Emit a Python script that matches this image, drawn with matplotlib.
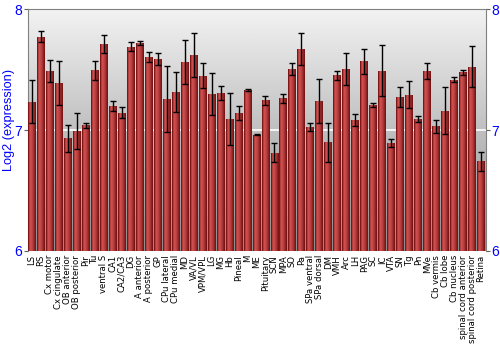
import numpy as np
import matplotlib
matplotlib.use('Agg')
import matplotlib.pyplot as plt
from matplotlib.colors import LinearSegmentedColormap

plt.rcParams['font.family'] = ['Liberation Sans', 'DejaVu Sans']

# 脑区名称
labels = ['LS', 'RS', 'Cx motor', 'Cx cingulate', 'OB anterior', 'OB posterior', 'Pir', 'Tu',
          'ventral S', 'CA1', 'CA2/CA3', 'DG', 'A anterior', 'A posterior', 'GP', 'CPu lateral',
          'CPu medial', 'MD', 'VA/VL', 'VPM/VPL', 'LG', 'MG', 'Hb', 'Pineal', 'M', 'ME',
          'Pituitary', 'SCN', 'MPA', 'SO', 'Pa', 'SPa ventral', 'SPa dorsal', 'DM', 'VMH', 'Arc',
          'LH', 'PAG', 'SC', 'IC', 'VTA', 'SN', 'Tg', 'Pn', 'MVe', 'Cb vermis', 'Cb lobe',
          'Cb nucleus', 'spinal cord anterior', 'spinal cord posterior', 'Retina']
# 均值
means = [7.235, 7.77, 7.485, 7.388, 6.93, 6.99, 7.04, 7.493, 7.712, 7.2, 7.144, 7.69, 7.717,
         7.604, 7.587, 7.258, 7.316, 7.562, 7.623, 7.449, 7.296, 7.307, 7.091, 7.141, 7.332,
         6.961, 7.247, 6.814, 7.263, 7.504, 7.668, 7.025, 7.241, 6.897, 7.452, 7.504, 7.083,
         7.568, 7.205, 7.49, 6.892, 7.271, 7.291, 7.091, 7.49, 7.03, 7.158, 7.416, 7.476,
         7.524, 6.74]
# 误差
errs = [0.18, 0.045, 0.09, 0.18, 0.11, 0.15, 0.022, 0.078, 0.075, 0.04, 0.043, 0.034, 0.017,
        0.043, 0.05, 0.275, 0.163, 0.18, 0.182, 0.103, 0.173, 0.058, 0.216, 0.061, 0.008,
        0.003, 0.038, 0.082, 0.039, 0.05, 0.134, 0.032, 0.183, 0.165, 0.04, 0.133, 0.047,
        0.105, 0.018, 0.21, 0.033, 0.084, 0.111, 0.023, 0.064, 0.057, 0.194, 0.02, 0.017,
        0.17, 0.078]

fig = plt.figure(figsize=(5, 3.5), dpi=100)
ax = fig.add_axes([0.055, 0.283, 0.916, 0.691])

x = np.arange(len(labels))
ax.set_xlim(-0.5, len(labels) - 0.5)
ax.set_ylim(6, 8)

# 背景渐变
grad = np.linspace(0.55, 0.95, 256).reshape(-1, 1)
ax.imshow(grad, extent=[-0.5, len(labels) - 0.5, 6, 8], origin='lower', aspect='auto',
          cmap='gray', vmin=0, vmax=1, zorder=0)
ax.axhline(7, color='white', lw=1.2, zorder=1)

bars = ax.bar(x, np.array(means) - 6, bottom=6, width=0.88, color='#a83030', zorder=2,
              edgecolor='none')
# 柱子横向渐变
hg = np.array([0.0, 0.45, 0.75, 0.7, 0.6, 0.5, 0.35, 0.15, 0.0]).reshape(1, -1)
cm = LinearSegmentedColormap.from_list('r', ['#7a1515', '#d05050'])
for b in bars:
    im = ax.imshow(hg, extent=[b.get_x(), b.get_x() + b.get_width(), 6, b.get_y() + b.get_height()],
                   aspect='auto', cmap=cm, vmin=0, vmax=0.75, zorder=3)
    im.set_clip_path(b)

ax.errorbar(x, means, yerr=errs, fmt='none', ecolor='black', elinewidth=1, capsize=2,
            capthick=1, zorder=4)

ax.set_xticks(x)
ax.set_xticklabels(labels, rotation=90, fontsize=6.1, family='DejaVu Sans')
ax.tick_params(axis='x', length=0, pad=3)
ax.set_yticks([6, 7, 8])
ax.tick_params(axis='y', colors='#606060', labelcolor='blue', labelsize=10, length=3,
               right=True, labelright=True, pad=1)
ax.set_ylabel('Log2 (expression)', color='blue', fontsize=9.2, labelpad=2)
ax.yaxis.set_label_coords(-0.028, 0.54)
for s in ['top', 'left', 'right', 'bottom']:
    ax.spines[s].set_color('#808080')
ax.spines['bottom'].set_visible(False)

fig.savefig('out.png', dpi=100)
